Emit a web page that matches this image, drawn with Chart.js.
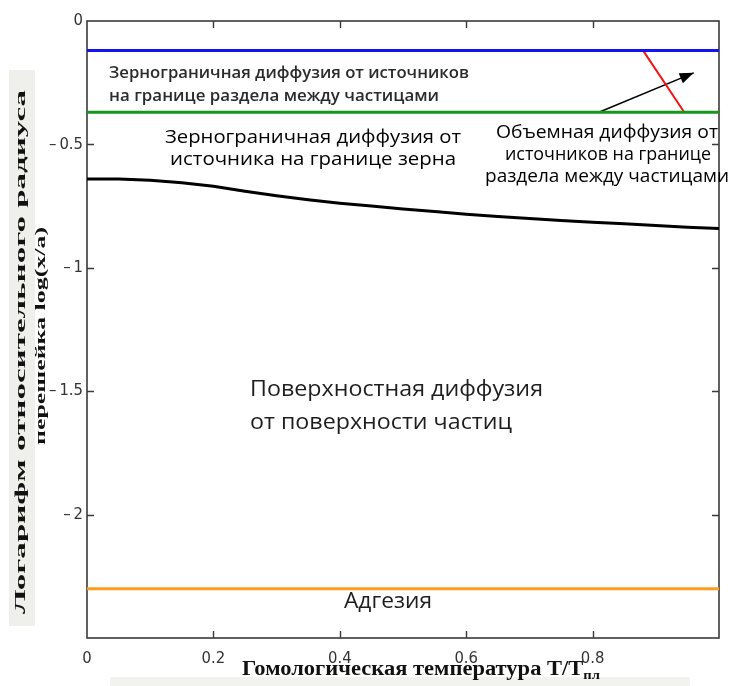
<!DOCTYPE html>
<html>
<head>
<meta charset="utf-8">
<script src="https://cdn.jsdelivr.net/npm/chart.js@4.4.1/dist/chart.umd.min.js"></script>
<style>
  html, body { margin: 0; padding: 0; background: #ffffff; }
  canvas { display: block; }
</style>
</head>
<body>
<canvas id="chart" width="730" height="686"></canvas>
<script>
// Axis ticks
const xTicks = [0, 0.2, 0.4, 0.6, 0.8, 1];
const yTicks = [0, -0.5, -1, -1.5, -2, -2.5];

// Surface diffusion boundary: log(x/a) versus homologous temperature
const temperature = [0, 0.05, 0.1, 0.15, 0.2, 0.25, 0.3, 0.35, 0.4, 0.45, 0.5,
                     0.55, 0.6, 0.65, 0.7, 0.75, 0.8, 0.85, 0.9, 0.95, 1];
const surfaceBoundary = [-0.64, -0.64, -0.645, -0.655, -0.67, -0.69, -0.708, -0.724, -0.738, -0.75, -0.762,
                         -0.772, -0.783, -0.792, -0.8, -0.808, -0.815, -0.822, -0.829, -0.836, -0.841];

// Horizontal mechanism boundaries
const interfaceSourcesLevel = [-0.12, -0.12];   // blue
const grainSourcesLevel = [-0.37, -0.37];       // green
const adhesionLevel = [-2.3, -2.3];             // orange
const levelSpan = [0, 1];

// Volume diffusion boundary (red segment)
const volumeX = [0.88, 0.945];
const volumeY = [-0.12, -0.37];

// Pointer arrow into the volume diffusion region
const arrowX = [0.81, 0.96];
const arrowY = [-0.37, -0.21];

const pts = (xs, ys) => xs.map((x, i) => ({ x: x, y: ys[i] }));

const lineStyle = (color, width) => ({
  borderColor: color, backgroundColor: color, borderWidth: width,
  pointRadius: 0, tension: 0, fill: false
});

const tickFont = { family: '"Liberation Sans Narrow", "DejaVu Sans Condensed", sans-serif', size: 16.5 };

// draws one line of text squeezed or widened to a given length
function fitted(ctx, text, font, x, y, length, align, rot) {
  ctx.save();
  ctx.font = font;
  const w = ctx.measureText(text).width;
  ctx.translate(x, y);
  if (rot) ctx.rotate(rot);
  ctx.scale(length / w, 1);
  ctx.textAlign = align;
  ctx.textBaseline = 'middle';
  ctx.fillText(text, 0, 0);
  ctx.restore();
}

const framePlugin = {
  id: 'frame',
  beforeDatasetsDraw(chart) {
    const { ctx, chartArea: a, scales: { x, y } } = chart;
    ctx.save();
    // light backing strips behind the axis titles
    ctx.fillStyle = '#efefeb';
    ctx.fillRect(9, 70, 26, 556);
    ctx.fillStyle = '#f2f2ee';
    ctx.fillRect(110, 677, 580, 9);
    // box
    ctx.strokeStyle = '#3a3a3a';
    ctx.lineWidth = 1.6;
    ctx.strokeRect(a.left, a.top, a.right - a.left, a.bottom - a.top);
    // inward ticks on all four sides
    const tl = 7;
    ctx.lineWidth = 1.4;
    ctx.beginPath();
    xTicks.filter(v => v > 0 && v < 1).forEach(v => {
      const px = Math.round(x.getPixelForValue(v)) + 0.5;
      ctx.moveTo(px, a.bottom); ctx.lineTo(px, a.bottom - tl);
      ctx.moveTo(px, a.top); ctx.lineTo(px, a.top + tl);
    });
    yTicks.filter(v => v < 0 && v > -2.5).forEach(v => {
      const py = Math.round(y.getPixelForValue(v)) + 0.5;
      ctx.moveTo(a.left, py); ctx.lineTo(a.left + tl, py);
      ctx.moveTo(a.right, py); ctx.lineTo(a.right - tl, py);
    });
    ctx.stroke();
    ctx.restore();
  },
  afterDatasetsDraw(chart) {
    const { ctx, scales: { x, y } } = chart;
    ctx.save();
    // arrow head at the end of the pointer
    const x0 = x.getPixelForValue(arrowX[0]), y0 = y.getPixelForValue(arrowY[0]);
    const x1 = x.getPixelForValue(arrowX[1]), y1 = y.getPixelForValue(arrowY[1]);
    const ang = Math.atan2(y1 - y0, x1 - x0);
    const hl = 14, hw = 5.5;
    ctx.fillStyle = '#000';
    ctx.beginPath();
    ctx.moveTo(x1, y1);
    ctx.lineTo(x1 - hl * Math.cos(ang) + hw * Math.sin(ang), y1 - hl * Math.sin(ang) - hw * Math.cos(ang));
    ctx.lineTo(x1 - hl * Math.cos(ang) - hw * Math.sin(ang), y1 - hl * Math.sin(ang) + hw * Math.cos(ang));
    ctx.closePath();
    ctx.fill();

    // region labels
    ctx.fillStyle = '#2b2b2b';
    fitted(ctx, 'Зернограничная диффузия от источников', '600 16.5px "Open Sans"', 109, 73, 360, 'left');
    fitted(ctx, 'на границе раздела между частицами', '600 16.5px "Open Sans"', 109, 96, 330, 'left');

    ctx.fillStyle = '#000';
    fitted(ctx, 'Зернограничная диффузия от', '19px "Open Sans"', 313, 138, 296, 'center');
    fitted(ctx, 'источника на границе зерна', '19px "Open Sans"', 313, 160, 286, 'center');

    fitted(ctx, 'Объемная диффузия от', '18px "Open Sans"', 607, 133, 222, 'center');
    fitted(ctx, 'источников на границе', '18px "Open Sans"', 608, 155, 206, 'center');
    fitted(ctx, 'раздела между частицами', '18px "Open Sans"', 607, 177, 244, 'center');

    ctx.fillStyle = '#1e1e1e';
    fitted(ctx, 'Поверхностная диффузия', '21.5px "Open Sans"', 250, 390, 293, 'left');
    fitted(ctx, 'от поверхности частиц', '21.5px "Open Sans"', 250, 423, 262, 'left');
    fitted(ctx, 'Адгезия', '21.5px "Open Sans"', 388, 602, 88, 'center');

    // axis titles
    ctx.fillStyle = '#111';
    fitted(ctx, 'Логарифм относительного радиуса', 'bold 15px "Liberation Serif"', 21, 352, 524, 'center', -Math.PI / 2);
    fitted(ctx, 'перешейка log(x/a)', 'bold 15px "Liberation Serif"', 41, 336, 218, 'center', -Math.PI / 2);

    // x title with subscript
    const main = 'Гомологическая температура T/T';
    const sub = 'пл';
    ctx.font = 'bold 20px "Liberation Serif"';
    const wMain = ctx.measureText(main).width;
    ctx.font = 'bold 13px "Liberation Serif"';
    const wSub = ctx.measureText(sub).width;
    const sx = 358 / (wMain + wSub);
    ctx.save();
    ctx.textAlign = 'left';
    ctx.textBaseline = 'alphabetic';
    ctx.translate(242, 675);
    ctx.scale(sx, 1);
    ctx.font = 'bold 20px "Liberation Serif"';
    ctx.fillText(main, 0, 0);
    ctx.font = 'bold 13px "Liberation Serif"';
    ctx.fillText(sub, wMain, 4);
    ctx.restore();
    ctx.restore();
  }
};

new Chart(document.getElementById('chart'), {
  type: 'line',
  data: {
    datasets: [
      Object.assign({ label: 'interface', data: pts(levelSpan, interfaceSourcesLevel) }, lineStyle('#1212f2', 3)),
      Object.assign({ label: 'grain', data: pts(levelSpan, grainSourcesLevel) }, lineStyle('#17961f', 3)),
      Object.assign({ label: 'surface', data: pts(temperature, surfaceBoundary) }, lineStyle('#000000', 3)),
      Object.assign({ label: 'adhesion', data: pts(levelSpan, adhesionLevel) }, lineStyle('#ff9c1c', 3)),
      Object.assign({ label: 'volume', data: pts(volumeX, volumeY) }, lineStyle('#f01414', 2)),
      Object.assign({ label: 'pointer', data: pts(arrowX, arrowY) }, lineStyle('#000000', 1.5))
    ]
  },
  options: {
    responsive: false,
    devicePixelRatio: 1,
    animation: false,
    layout: { padding: { top: 21, right: 10, left: 0, bottom: 0 } },
    plugins: { legend: { display: false }, tooltip: { enabled: false }, title: { display: false } },
    scales: {
      x: {
        type: 'linear', min: 0, max: 1,
        grid: { display: false, drawTicks: false },
        border: { display: false },
        afterBuildTicks: s => { s.ticks = xTicks.map(v => ({ value: v })); },
        afterFit: s => { s.height = 48; },
        ticks: {
          padding: 11, maxRotation: 0, autoSkip: false, color: '#333', font: tickFont,
          callback: v => (v === 1 ? '' : String(v))
        }
      },
      y: {
        type: 'linear', min: -2.5, max: 0,
        grid: { display: false, drawTicks: false },
        border: { display: false },
        afterBuildTicks: s => { s.ticks = yTicks.map(v => ({ value: v })); },
        afterFit: s => { s.width = 87; },
        ticks: {
          padding: 4, autoSkip: false, color: '#333', font: tickFont,
          callback: v => (v === 0 ? '0' : v === -2.5 ? '' : '\u2013\u2009' + Math.abs(v))
        }
      }
    }
  },
  plugins: [framePlugin]
});
</script>
</body>
</html>
